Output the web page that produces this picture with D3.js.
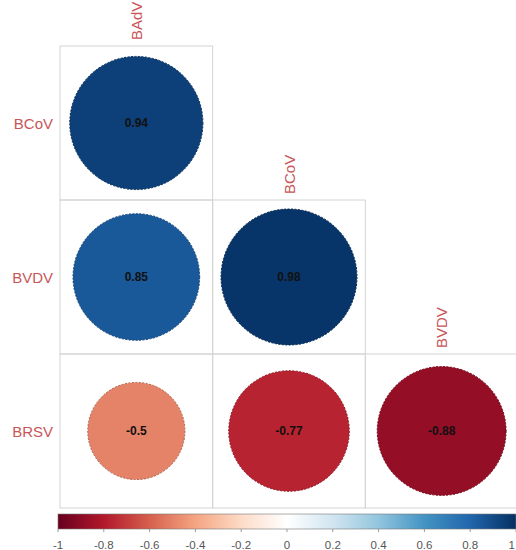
<!DOCTYPE html>
<html>
<head>
<meta charset="utf-8">
<script src="https://cdn.jsdelivr.net/npm/d3@7"></script>
<style>
  html, body { margin: 0; padding: 0; background: #fff; }
  svg { display: block; }
</style>
</head>
<body>
<svg id="chart" width="516" height="550"></svg>
<script>
// ---- data ----
const rowVars = ["BCoV", "BVDV", "BRSV"];
const colVars = ["BAdV", "BCoV", "BVDV"];
const corrValues = [
  [0.94],
  [0.85, 0.98],
  [-0.5, -0.77, -0.88]
];
const legendTicks = [-1, -0.8, -0.6, -0.4, -0.2, 0, 0.2, 0.4, 0.6, 0.8, 1];
const paletteColors = ["#67001F", "#B2182B", "#D6604D", "#F4A582", "#FDDBC7",
                       "#FFFFFF", "#D1E5F0", "#92C5DE", "#4393C3", "#2166AC", "#053061"];

// ---- layout ----
const svg = d3.select("#chart");
const gLeft = 60, gRight = 518, gTop = 46, gBottom = 508;

const x = d3.scaleBand().domain(colVars.map((d, i) => i)).range([gLeft, gRight]).padding(0);
const y = d3.scaleBand().domain(rowVars.map((d, i) => i)).range([gTop, gBottom]).padding(0);

const color = d3.scaleLinear()
  .domain(d3.range(paletteColors.length).map(i => -1 + 2 * i / (paletteColors.length - 1)))
  .range(paletteColors)
  .interpolate(d3.interpolateRgb);

const rScale = d3.scaleSqrt().domain([0, 1]).range([0, 0.45 * x.bandwidth()]);

const cells = [];
corrValues.forEach((row, ri) => row.forEach((v, ci) => cells.push({ ri, ci, v })));

// grid cells
svg.append("g").selectAll("rect").data(cells).join("rect")
  .attr("x", d => x(d.ci))
  .attr("y", d => y(d.ri))
  .attr("width", x.bandwidth())
  .attr("height", y.bandwidth())
  .attr("fill", "none")
  .attr("stroke", "#d4d4d4")
  .attr("stroke-width", 1);

// circles
svg.append("g").selectAll("circle").data(cells).join("circle")
  .attr("cx", d => x(d.ci) + x.bandwidth() / 2)
  .attr("cy", d => y(d.ri) + y.bandwidth() / 2)
  .attr("r", d => rScale(Math.abs(d.v)))
  .attr("fill", d => color(d.v))
  .attr("stroke", d => d3.color(color(d.v)).darker(0.8))
  .attr("stroke-width", 1)
  .attr("stroke-dasharray", "2,1.5");

// value labels
svg.append("g").selectAll("text").data(cells).join("text")
  .attr("x", d => x(d.ci) + x.bandwidth() / 2)
  .attr("y", d => y(d.ri) + y.bandwidth() / 2)
  .attr("text-anchor", "middle")
  .attr("dominant-baseline", "central")
  .attr("font-family", "Liberation Sans, Arial, sans-serif")
  .attr("font-size", 12)
  .attr("font-weight", "bold")
  .attr("fill", "#111")
  .text(d => String(d.v));

// row labels
svg.append("g").selectAll("text").data(rowVars).join("text")
  .attr("x", gLeft - 7)
  .attr("y", (d, i) => y(i) + y.bandwidth() / 2)
  .attr("text-anchor", "end")
  .attr("dominant-baseline", "central")
  .attr("font-family", "Liberation Sans, Arial, sans-serif")
  .attr("font-size", 15)
  .attr("fill", "#c85658")
  .text(d => d);

// column labels (above top cell of each column)
svg.append("g").selectAll("text").data(colVars).join("text")
  .attr("transform", (d, i) => `translate(${x(i) + x.bandwidth() / 2},${y(i) - 6}) rotate(-90)`)
  .attr("text-anchor", "start")
  .attr("dominant-baseline", "central")
  .attr("font-family", "Liberation Sans, Arial, sans-serif")
  .attr("font-size", 15)
  .attr("fill", "#c85658")
  .text(d => d);

// ---- colour legend ----
const legX = d3.scaleLinear().domain([-1, 1]).range([58, 516]);
const legTop = 514, legH = 15;

const defs = svg.append("defs");
const grad = defs.append("linearGradient").attr("id", "legGrad")
  .attr("x1", "0%").attr("x2", "100%").attr("y1", "0%").attr("y2", "0%");
paletteColors.forEach((c, i) => {
  grad.append("stop")
    .attr("offset", (100 * i / (paletteColors.length - 1)) + "%")
    .attr("stop-color", c);
});

svg.append("rect")
  .attr("x", legX(-1))
  .attr("y", legTop)
  .attr("width", legX(1) - legX(-1))
  .attr("height", legH)
  .attr("fill", "url(#legGrad)")
  .attr("stroke", "#777")
  .attr("stroke-width", 0.6);

const legAxis = svg.append("g");
legAxis.selectAll("line").data(legendTicks).join("line")
  .attr("x1", d => legX(d)).attr("x2", d => legX(d))
  .attr("y1", legTop + legH).attr("y2", legTop + legH + 3)
  .attr("stroke", "#999").attr("stroke-width", 1);

legAxis.selectAll("text").data(legendTicks).join("text")
  .attr("x", d => d === 1 ? 515 : legX(d))
  .attr("y", 545)
  .attr("text-anchor", d => d === 1 ? "end" : "middle")
  .attr("dominant-baseline", "central")
  .attr("font-family", "Liberation Sans, Arial, sans-serif")
  .attr("font-size", 11.5)
  .attr("fill", "#555")
  .text(d => String(d));
</script>
</body>
</html>
